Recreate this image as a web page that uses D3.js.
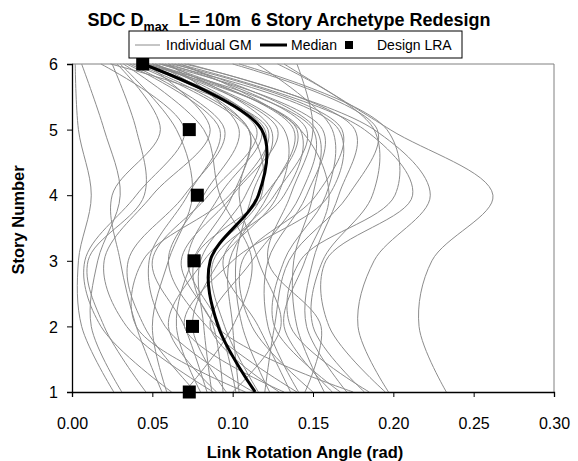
<!DOCTYPE html>
<html>
<head>
<meta charset="utf-8">
<script src="https://cdn.jsdelivr.net/npm/d3@7"></script>
<style>
  body { margin: 0; background: #fff; }
  svg { display: block; font-family: "Liberation Sans", Arial, sans-serif; }
</style>
</head>
<body>
<div id="chart"></div>
<script>
// story levels and tick labels
const stories = [1, 2, 3, 4, 5, 6];
const xTicks = [0, 0.05, 0.10, 0.15, 0.20, 0.25, 0.30];

// link rotation per story (1..6) for each ground motion
const gmRuns = [
  [0.026, 0.006, 0.004, 0.012, 0.004, 0.002],
  [0.031, 0.012, 0.016, 0.030, 0.020, 0.006],
  [0.046, 0.020, 0.010, 0.045, 0.040, 0.025],
  [0.056, 0.040, 0.030, 0.025, 0.055, 0.028],
  [0.059, 0.050, 0.060, 0.075, 0.065, 0.030],
  [0.077, 0.045, 0.035, 0.070, 0.095, 0.036],
  [0.080, 0.065, 0.075, 0.100, 0.110, 0.040],
  [0.084, 0.070, 0.050, 0.085, 0.115, 0.042],
  [0.087, 0.082, 0.080, 0.108, 0.120, 0.045],
  [0.090, 0.060, 0.082, 0.118, 0.110, 0.038],
  [0.094, 0.088, 0.068, 0.100, 0.128, 0.048],
  [0.096, 0.075, 0.092, 0.128, 0.132, 0.050],
  [0.102, 0.092, 0.072, 0.092, 0.118, 0.052],
  [0.104, 0.100, 0.098, 0.122, 0.138, 0.055],
  [0.116, 0.095, 0.088, 0.132, 0.142, 0.044],
  [0.123, 0.106, 0.102, 0.112, 0.124, 0.058],
  [0.129, 0.086, 0.112, 0.142, 0.150, 0.046],
  [0.136, 0.116, 0.094, 0.126, 0.146, 0.060],
  [0.141, 0.122, 0.122, 0.146, 0.156, 0.054],
  [0.150, 0.112, 0.106, 0.152, 0.168, 0.062],
  [0.157, 0.140, 0.138, 0.150, 0.152, 0.064],
  [0.162, 0.132, 0.145, 0.160, 0.142, 0.068],
  [0.167, 0.126, 0.132, 0.158, 0.162, 0.115],
  [0.171, 0.146, 0.150, 0.166, 0.176, 0.070],
  [0.182, 0.150, 0.156, 0.187, 0.188, 0.128],
  [0.185, 0.136, 0.142, 0.201, 0.196, 0.104],
  [0.195, 0.160, 0.158, 0.212, 0.182, 0.066],
  [0.197, 0.178, 0.188, 0.223, 0.188, 0.072],
  [0.233, 0.216, 0.224, 0.262, 0.198, 0.132],
  [0.113, 0.058, 0.048, 0.072, 0.092, 0.034],
  [0.070, 0.100, 0.112, 0.092, 0.082, 0.032],
  [0.108, 0.040, 0.044, 0.098, 0.122, 0.024],
  [0.132, 0.070, 0.100, 0.160, 0.166, 0.056],
  [0.145, 0.155, 0.122, 0.136, 0.150, 0.140],
  [0.175, 0.090, 0.076, 0.120, 0.140, 0.050],
  [0.120, 0.126, 0.135, 0.172, 0.190, 0.100],
  [0.088, 0.034, 0.020, 0.050, 0.086, 0.046],
  [0.100, 0.130, 0.116, 0.104, 0.110, 0.052],
  [0.062, 0.018, 0.008, 0.040, 0.070, 0.018],
  [0.140, 0.084, 0.060, 0.082, 0.104, 0.060]
];
const median = [0.114, 0.091, 0.086, 0.116, 0.118, 0.044];
const designLRA = [0.073, 0.075, 0.076, 0.078, 0.073, 0.044];

const width = 578, height = 461;
const margin = { top: 64, right: 24, bottom: 69, left: 72 };
const plotW = width - margin.left - margin.right;
const plotH = height - margin.top - margin.bottom;

const svg = d3.select("#chart").append("svg")
  .attr("width", width)
  .attr("height", height);

const x = d3.scaleLinear().domain([0, 0.30]).range([0, plotW]);
const y = d3.scaleLinear().domain([1, 6]).range([plotH, 0]);

const g = svg.append("g")
  .attr("transform", "translate(" + margin.left + "," + margin.top + ")");

// grey frame on top / right
g.append("path")
  .attr("d", "M0,0H" + plotW + "V" + plotH)
  .attr("fill", "none")
  .attr("stroke", "#808080")
  .attr("stroke-width", 1);

const line = d3.line()
  .x(d => x(d[0]))
  .y(d => y(d[1]))
  .curve(d3.curveCatmullRom.alpha(0.5));

const toPts = vals => vals.map((v, i) => [v, stories[i]]);

g.append("g").selectAll("path")
  .data(gmRuns)
  .join("path")
  .attr("d", d => line(toPts(d)))
  .attr("fill", "none")
  .attr("stroke", "#8c8c8c")
  .attr("stroke-width", 1);

g.append("path")
  .attr("d", line(toPts(median)))
  .attr("fill", "none")
  .attr("stroke", "#000")
  .attr("stroke-width", 3);

const sq = 13;
g.append("g").selectAll("rect")
  .data(toPts(designLRA))
  .join("rect")
  .attr("x", d => x(d[0]) - sq / 2)
  .attr("y", d => y(d[1]) - sq / 2)
  .attr("width", sq)
  .attr("height", sq)
  .attr("fill", "#000");

// axes
const xAxis = g.append("g")
  .attr("transform", "translate(0," + plotH + ")")
  .call(d3.axisBottom(x).tickValues(xTicks).tickFormat(d3.format(".2f")).tickSizeOuter(0).tickSize(5));
const yAxis = g.append("g")
  .call(d3.axisLeft(y).tickValues(stories).tickFormat(d3.format("d")).tickSizeOuter(0).tickSize(5));

[xAxis, yAxis].forEach(a => {
  a.select(".domain").attr("stroke", "#000").attr("stroke-width", 1.3);
  a.selectAll(".tick line").attr("stroke", "#000");
  a.selectAll("text").attr("font-size", 16).attr("fill", "#000")
    .attr("font-family", "'Liberation Sans', Arial, sans-serif");
});
xAxis.selectAll("text").attr("y", 37).attr("dy", 0);
yAxis.selectAll("text").attr("x", -14).attr("dy", "0.36em");

// axis titles
svg.append("text")
  .attr("x", margin.left + plotW / 2 - 8)
  .attr("y", 458)
  .attr("text-anchor", "middle")
  .attr("font-size", 16.5)
  .attr("font-weight", "bold")
  .text("Link Rotation Angle (rad)");

svg.append("text")
  .attr("transform", "translate(24,220) rotate(-90)")
  .attr("text-anchor", "middle")
  .attr("font-size", 16.5)
  .attr("font-weight", "bold")
  .text("Story Number");

// title with subscript
const title = svg.append("text")
  .attr("x", 289)
  .attr("y", 26)
  .attr("text-anchor", "middle")
  .attr("font-size", 18)
  .attr("font-weight", "bold");
title.append("tspan").text("SDC D");
title.append("tspan").attr("font-size", 12.5).attr("dy", 5).text("max");
title.append("tspan").attr("dy", -5).text("\u00a0\u00a0L= 10m\u00a0\u00a06 Story Archetype Redesign");

// legend
const lg = svg.append("g").attr("transform", "translate(129,31)");
lg.append("rect")
  .attr("width", 333).attr("height", 27)
  .attr("fill", "#fff").attr("stroke", "#000").attr("stroke-width", 1);
lg.append("line").attr("x1", 6).attr("x2", 31).attr("y1", 14).attr("y2", 14)
  .attr("stroke", "#8c8c8c").attr("stroke-width", 1);
lg.append("text").attr("x", 37).attr("y", 19).attr("font-size", 14).text("Individual GM");
lg.append("line").attr("x1", 131).attr("x2", 158).attr("y1", 14).attr("y2", 14)
  .attr("stroke", "#000").attr("stroke-width", 3);
lg.append("text").attr("x", 162).attr("y", 19).attr("font-size", 14).text("Median");
lg.append("rect").attr("x", 216).attr("y", 10).attr("width", 8).attr("height", 8).attr("fill", "#000");
lg.append("text").attr("x", 248).attr("y", 19).attr("font-size", 14).text("Design LRA");
</script>
</body>
</html>
